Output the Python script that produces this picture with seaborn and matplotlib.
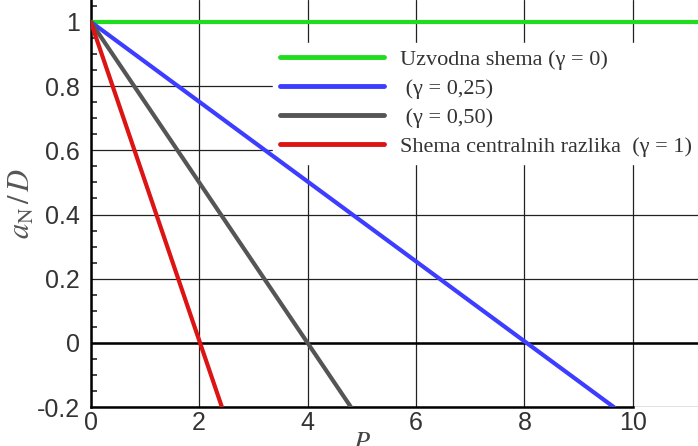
import pandas as pd
import seaborn as sns
import matplotlib.pyplot as plt
from matplotlib.ticker import MultipleLocator

# procitano sa slike: krajnje tocke pravaca a_N/D u ovisnosti o P
labels = ["Uzvodna shema (\u03b3 = 0)", " (\u03b3 = 0,25)", " (\u03b3 = 0,50)",
          "Shema centralnih razlika  (\u03b3 = 1)"]
p_start = [0, 0, 0, 0]
p_end = [11.2, 9.65, 4.8, 2.42]
a_start = [1.0, 1.0, 1.0, 1.0]
a_end = [1.0, -0.2, -0.2, -0.2]
boje = ["#1fdc1f", "#3d3dff", "#555555", "#dc1414"]

rows = []
for i in range(len(labels)):
    rows.append({"shema": labels[i], "P": p_start[i], "aN": a_start[i]})
    rows.append({"shema": labels[i], "P": p_end[i], "aN": a_end[i]})
df = pd.DataFrame(rows)

sns.set_style("white")
plt.rcParams['font.family'] = ['Liberation Sans', 'DejaVu Sans']
plt.rcParams['mathtext.fontset'] = 'stix'

fig = plt.figure(figsize=(6.98, 4.46), dpi=100)
ax = fig.add_axes([0.130, 0.087, 0.87, 0.913])

sns.lineplot(data=df, x="P", y="aN", hue="shema", palette=boje,
             hue_order=labels, linewidth=3, ax=ax, zorder=3)

ax.set_xlim(0, 11.2)
ax.set_ylim(-0.2, 1.068)
ax.set_xticks([0, 2, 4, 6, 8, 10])
ax.set_yticks([-0.2, 0, 0.2, 0.4, 0.6, 0.8, 1])
ax.set_yticklabels(["-0.2", "0", "0.2", "0.4", "0.6", "0.8", "1"])
ax.yaxis.set_minor_locator(MultipleLocator(0.05))
ax.xaxis.set_minor_locator(MultipleLocator(0.5))
ax.grid(True, which="major", color="#222222", linewidth=0.9)
ax.axhline(0, color="black", linewidth=1.8, zorder=2)

for s in ["top", "right"]:
    ax.spines[s].set_visible(False)
ax.spines["left"].set_linewidth(1.8)
ax.spines["bottom"].set_linewidth(1.8)
ax.spines["left"].set_color("black")
ax.spines["bottom"].set_color("black")
ax.spines["bottom"].set_bounds(0, 10)

ax.tick_params(axis="both", which="major", direction="in", length=7, width=1.5,
               labelsize=18, labelcolor="#333333")
ax.tick_params(axis="y", which="major", pad=8)
ax.tick_params(axis="y", which="minor", direction="in", length=4, width=1.2, left=True)
ax.tick_params(axis="x", which="minor", direction="in", length=0)
ax.tick_params(axis="x", which="major", pad=3)

ax.set_ylabel("$a_{\\rm N}\\,/\\,D$", fontsize=22, color="#555555", labelpad=0)
ax.set_xlabel("$P$", fontsize=19, color="#444444")
ax.xaxis.set_label_coords(5 / 11.2, -0.058)

leg = ax.legend(loc="upper left", bbox_to_anchor=(0.30, 0.895), frameon=True,
                facecolor="white", edgecolor="white", framealpha=1,
                prop={"family": "Liberation Serif", "size": 16},
                handlelength=4.7, handletextpad=0.7, labelspacing=0.38,
                borderpad=0.3, borderaxespad=0)
leg.set_zorder(2.5)
for line in leg.get_lines():
    line.set_linewidth(3.5)
for t in leg.get_texts():
    t.set_color("#333333")

fig.savefig("out.png", dpi=100)
